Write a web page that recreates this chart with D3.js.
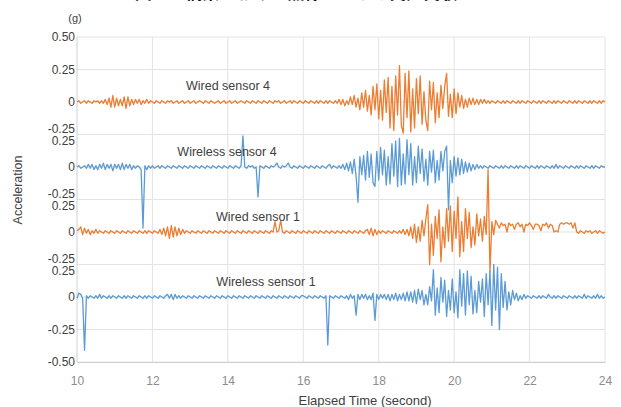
<!DOCTYPE html>
<html lang="ja">
<head>
<meta charset="UTF-8">
<title>Acceleration records</title>
<script src="https://d3js.org/d3.v7.min.js"></script>
<style>
  body { margin: 0; background: #fff; }
  svg { display: block; font-family: "Liberation Sans", Arial, sans-serif; }
  .grid line { stroke: #e3e3e3; stroke-width: 1; }
  .ytick { font-size: 12px; fill: #404040; }
  .xtick { font-size: 12px; fill: #8c8c8c; }
  .series-label { font-size: 12.5px; fill: #404040; }
</style>
</head>
<body>
<svg width="621" height="407"></svg>
<script>
// 時間軸 (秒)
const xTicks = [10, 12, 14, 16, 18, 20, 22, 24];
const tStart = 10, dt = 0.05;

// 系列名と色
const seriesNames = ["Wired sensor 4", "Wireless sensor 4", "Wired sensor 1", "Wireless sensor 1"];
const seriesColors = ["#ED7D31", "#5B9BD5", "#ED7D31", "#5B9BD5"];
// 各段のゼロ位置 (全体軸上)
const panelOffsets = [0.75, 0.25, -0.25, -0.75];

// y軸目盛 (全体軸上の位置, 表示ラベル, 上下ずらし)
const yTickPos = [1.25, 1.0, 0.75, 0.5, 0.5, 0.25, 0, 0, -0.25, -0.5, -0.5, -0.75, -1.0, -1.25];
const yTickLabels = ["0.50", "0.25", "0", "-0.25", "0.25", "0", "-0.25", "0.25", "0", "-0.25", "0.25", "0", "-0.25", "-0.50"];
const yTickShift = [0, 0, 0, -6, 6, 0, -6, 6, 0, -6, 6, 0, 0, 0];

// 加速度 (g)、1秒ごとに 0.05 s 間隔 20 点
const wired4 = [
  [0,.01,-.01,0,.01,-.01,.01,0,-.01,.01,0,.01,-.01,.01,-.01,.02,-.02,.03,-.04,.05],
  [-.04,.03,-.03,.02,-.03,.04,-.05,.04,-.03,.02,-.02,.02,-.01,.02,-.02,.01,-.01,.02,-.01,.01],
  [0,-.01,.01,0,-.01,.01,0,-.01,.01,0,.01,-.01,0,.01,-.01,0,.01,-.01,0,.01],
  [-.01,0,.01,-.01,0,.01,0,-.01,.01,0,-.01,.01,0,-.01,0,.01,-.01,0,.01,-.01],
  [0,.01,-.01,0,.01,-.01,0,.01,0,-.01,.01,0,-.01,.01,0,-.01,.01,0,-.01,.01],
  [0,-.01,.01,0,-.01,.01,0,.01,-.01,0,.01,-.01,0,.01,-.01,.01,0,-.01,.01,0],
  [-.01,.01,0,-.01,.01,0,-.01,.01,-.01,.01,0,-.01,.01,-.01,.01,0,-.01,.01,-.01,.02],
  [-.02,.02,-.03,.01,-.02,.04,-.02,.05,-.04,.03,-.06,.07,-.04,.09,-.07,.05,-.1,.12,-.06,.14],
  [-.13,.09,-.14,.17,-.08,.19,-.2,.12,-.22,.2,-.1,.28,-.18,-.24,.22,-.12,.24,-.23,.1,-.2],
  [.18,-.09,.2,-.17,.08,-.14,-.22,.16,-.06,.15,-.16,.07,-.12,.13,-.05,.12,.22,-.11,.06,-.12],
  [.1,-.09,.07,-.04,.05,-.05,.02,-.04,.03,-.02,.03,-.02,.02,-.02,.02,-.01,.02,-.01,.01,-.01],
  [.01,0,-.01,.01,0,-.01,.01,-.01,.01,0,-.01,.01,0,-.01,.01,-.01,.01,0,-.01,.01],
  [0,-.01,.01,0,-.01,.01,-.01,.01,0,-.01,.01,0,-.01,.01,-.01,.01,0,-.01,.01,0],
  [-.01,.01,0,-.01,.01,-.01,.01,0,-.01,.01,0,-.01,.01,-.01,.01,0,-.01,.01,-.01,.01],
  [0]
];
const wireless4 = [
  [0,.01,-.01,0,.01,-.01,.02,-.01,.02,-.02,.01,-.02,.02,-.01,.03,-.02,.02,-.01,.02,-.03],
  [.02,-.01,.02,-.02,.03,-.02,.02,-.01,.02,-.02,.01,-.01,.01,0,-.02,-.47,.01,-.02,.01,-.01],
  [.01,-.01,0,.01,-.01,.01,0,-.01,.01,0,-.01,.01,0,-.01,.01,0,-.01,.01,0,-.01],
  [.01,0,-.01,.01,0,-.01,.01,0,-.01,.01,0,-.01,.01,0,-.01,.01,0,-.01,.01,0],
  [-.01,.01,0,-.01,.01,0,-.01,.01,.24,0,-.01,.01,0,.01,-.01,0,-.23,.01,0,-.01],
  [.01,0,-.01,.01,0,.01,.03,0,-.01,.01,0,.01,.03,0,-.01,.01,0,-.01,.01,0],
  [-.01,.01,0,-.01,.01,0,-.01,.01,0,-.01,.01,0,-.01,.01,.02,-.01,.01,0,-.01,.01],
  [-.01,.02,-.02,.03,-.03,.04,-.05,.06,-.07,-.27,.08,-.06,.09,-.1,.12,-.08,.1,-.12,-.15,.12],
  [-.1,.15,-.06,.13,-.14,.08,-.13,.18,-.07,.2,-.15,.22,-.14,.1,-.13,.21,-.06,.18,-.14,.08],
  [-.12,.16,-.05,.14,-.11,.06,-.14,.12,-.04,.13,-.12,.05,-.1,.12,-.03,.12,.16,-.33,.05,-.12],
  [.08,-.07,.07,-.06,.06,-.05,.04,-.04,.03,-.03,.02,-.02,.02,-.01,.01,-.01,.01,0,-.01,.01],
  [0,-.01,.01,0,-.01,.01,-.01,.01,0,-.01,.01,0,-.01,.01,-.01,.01,0,-.01,.01,0],
  [-.01,.01,0,-.01,.01,-.01,.01,0,-.01,.01,0,-.01,.01,-.01,.02,-.01,.01,0,-.01,.01],
  [0,-.01,.01,0,-.01,.01,-.01,.01,0,-.01,.01,0,-.01,.01,-.01,.01,0,-.01,.01,0],
  [0]
];
const wired1 = [
  [.01,.02,.04,-.02,.03,-.01,.02,-.02,.01,-.01,.02,-.01,.01,0,-.01,.01,0,-.01,.01,0],
  [-.01,.01,0,-.01,.01,0,-.01,.01,0,-.01,.01,0,-.01,.01,0,-.01,.01,-.01,.01,0],
  [-.01,.01,0,-.01,.02,-.02,.03,-.03,.04,-.05,.05,-.04,.04,-.03,.03,-.02,.02,-.01,.01,0],
  [-.01,.01,0,-.01,.01,0,-.01,.01,0,-.01,.01,0,-.01,.01,0,-.01,.01,0,-.01,.01],
  [0,-.01,.01,0,-.01,.01,0,-.01,.01,0,-.01,.01,0,-.01,.01,0,-.01,.01,0,-.01],
  [.01,0,-.01,.01,0,.08,0,.01,.09,0,-.01,.01,0,-.01,.01,0,-.01,.01,0,-.01],
  [.01,0,-.01,.01,0,-.01,.01,0,-.01,.01,0,-.01,.01,0,-.01,.01,0,-.01,.01,0],
  [-.01,.01,0,-.01,.01,0,-.01,.01,0,-.01,.01,0,-.01,.01,.02,-.02,.03,-.03,.02,-.02],
  [.01,-.01,.01,0,-.01,.01,0,-.01,.01,0,-.01,.01,-.01,.02,-.02,.02,-.03,.04,-.05,.06],
  [-.08,.04,-.07,.09,-.03,.1,.21,-.25,.06,-.18,.12,-.05,.17,-.23,.04,-.12,.18,-.07,.2,-.15],
  [.16,-.05,.27,-.19,.08,-.15,.18,-.05,.15,-.12,.04,-.1,.14,-.03,.1,-.07,.12,-.02,.48,-.31],
  [.08,-.02,.09,.06,.03,.07,.05,.06,0,.07,.05,.06,.02,.06,.07,.04,.06,0,.06,.05],
  [.07,.05,.02,.06,.06,.05,.01,.06,.05,.07,.03,.06,.05,0,.01,0,.06,.07,.06,.07],
  [.07,.06,.07,.03,.07,0,-.01,.01,0,-.01,.01,0,.01,-.01,0,.01,-.01,.01,0,-.01],
  [0]
];
const wireless1 = [
  [-.01,.03,.02,-.01,-.41,.01,-.01,.01,0,-.01,.01,-.01,.02,-.01,.01,0,-.01,.01,-.01,.01],
  [0,-.01,.01,0,-.01,.01,-.01,.01,0,-.01,.01,0,-.01,.01,0,-.01,.01,-.01,.01,0],
  [-.01,.01,0,-.01,.01,0,-.01,.01,.02,-.01,.02,-.02,.02,-.01,.01,-.01,.01,0,-.01,.01],
  [0,-.01,.01,0,-.01,.01,0,-.01,.01,0,-.01,.01,0,-.01,.01,0,-.01,.01,0,-.01],
  [.01,0,-.01,.01,0,-.01,.01,0,-.01,.01,0,-.01,.01,0,-.01,.01,0,-.01,.01,0],
  [-.01,.01,0,-.01,.01,0,-.01,.01,0,-.01,.01,0,-.01,.01,0,-.01,.01,0,-.01,.01],
  [.01,0,-.01,.01,0,-.01,.01,0,-.01,.01,0,-.01,.01,-.37,.01,0,-.01,.01,0,-.01],
  [.01,0,-.01,.01,-.02,.02,-.01,.01,-.14,.02,-.02,.02,-.01,.02,-.02,.01,-.02,.03,-.18,.02],
  [-.02,.02,-.01,.02,-.02,.02,-.03,.02,-.02,.03,-.03,.02,-.02,.03,-.03,.04,-.03,.04,-.04,.05],
  [-.05,.06,-.02,.05,-.06,.02,-.06,.08,-.03,.21,-.14,.07,-.12,.15,-.04,.13,-.15,.05,-.1,.14],
  [-.12,.04,-.16,.21,-.07,.18,-.14,.2,-.06,.16,-.13,.05,-.12,.12,-.04,.14,-.15,.18,-.06,.2],
  [-.22,.25,-.1,.23,-.25,.18,-.08,.12,-.1,.04,-.06,.05,-.02,.03,-.03,.01,-.02,.02,-.01,.01],
  [0,-.01,.01,0,-.01,.01,-.01,.01,0,-.01,.02,0,-.01,.01,-.01,.01,0,-.01,.01,0],
  [-.01,.01,0,-.01,.01,-.01,.01,0,-.01,.02,-.01,.01,0,-.01,.01,-.01,.02,-.01,.01,-.01],
  [0]
];
const seriesData = [wired4, wireless4, wired1, wireless1];

const svg = d3.select("svg");
const margin = { left: 77, right: 16, top: 37, bottom: 45 };
const W = 621, H = 407;

const x = d3.scaleLinear().domain([10, 24]).range([margin.left, W - margin.right]);
const y = d3.scaleLinear().domain([-1.25, 1.25]).range([H - margin.bottom, margin.top]);

// タイトル (上端で切れている)
svg.append("text")
  .attr("x", 296).attr("y", -1)
  .attr("text-anchor", "middle")
  .style("font-family", "'Noto Sans CJK JP', sans-serif")
  .style("font-size", "17px")
  .style("font-weight", "bold")
  .attr("fill", "#111")
  .text("図-2　橋梁における無線センサの実証実験");

// グリッド
const grid = svg.append("g").attr("class", "grid");
grid.selectAll(".hg")
  .data(Array.from(new Set(yTickPos)))
  .join("line")
  .attr("x1", x(10)).attr("x2", x(24))
  .attr("y1", d => y(d)).attr("y2", d => y(d));
grid.selectAll(".vg")
  .data(xTicks.slice(1))
  .join("line")
  .attr("x1", d => x(d)).attr("x2", d => x(d))
  .attr("y1", y(1.25)).attr("y2", y(-1.25));

// y軸の線
svg.append("line")
  .attr("x1", x(10)).attr("x2", x(10))
  .attr("y1", y(1.25)).attr("y2", y(-1.25))
  .attr("stroke", "#d0d0d0");

// 波形
const line = d3.line()
  .x(d => x(d.t))
  .y(d => y(d.v));

seriesData.forEach((rows, k) => {
  const pts = [];
  rows.forEach((row, r) => {
    row.forEach((v, j) => pts.push({ t: tStart + r + j * dt, v: v + panelOffsets[k] }));
  });
  svg.append("path")
    .datum(pts)
    .attr("fill", "none")
    .attr("stroke", seriesColors[k])
    .attr("stroke-width", 1.3)
    .attr("stroke-linejoin", "round")
    .attr("d", line);
});

// 系列ラベル
const labelX = [228, 227, 258, 266];
const labelY = [90, 156, 221, 286];
svg.selectAll(".series-label")
  .data(seriesNames)
  .join("text")
  .attr("class", "series-label")
  .attr("x", (d, i) => labelX[i])
  .attr("y", (d, i) => labelY[i])
  .attr("text-anchor", "middle")
  .text(d => d);

// y目盛ラベル
svg.selectAll(".ytick")
  .data(yTickPos)
  .join("text")
  .attr("class", "ytick")
  .attr("x", x(10) - 2)
  .attr("y", (d, i) => y(d) + yTickShift[i])
  .attr("dy", "0.35em")
  .attr("text-anchor", "end")
  .text((d, i) => yTickLabels[i]);

// x軸
const xAxis = svg.append("g")
  .attr("transform", `translate(0,${y(-1.25)})`)
  .call(d3.axisBottom(x).tickValues(xTicks).tickSize(0).tickPadding(14).tickFormat(d3.format("d")));
xAxis.select(".domain").attr("stroke", "#d0d0d0");
xAxis.selectAll(".tick text").attr("class", "xtick").attr("font-family", null).attr("font-size", null);

// 軸タイトル
svg.append("text")
  .attr("x", 365).attr("y", 405)
  .attr("text-anchor", "middle")
  .style("font-size", "13px")
  .attr("fill", "#404040")
  .text("Elapsed Time (second)");

svg.append("text")
  .attr("transform", "translate(22,190) rotate(-90)")
  .attr("text-anchor", "middle")
  .style("font-size", "12.5px")
  .attr("fill", "#404040")
  .text("Acceleration");

svg.append("text")
  .attr("x", 75).attr("y", 22)
  .attr("text-anchor", "middle")
  .style("font-size", "11px")
  .attr("fill", "#404040")
  .text("(g)");
</script>
</body>
</html>
